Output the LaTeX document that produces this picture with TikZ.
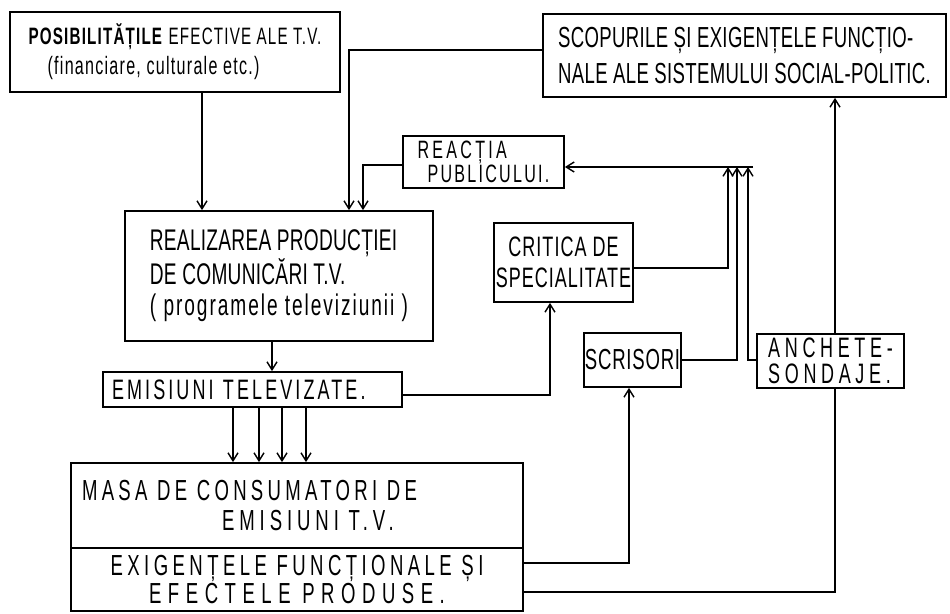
\documentclass[tikz,border=0pt]{standalone}
\usepackage{fontspec}
\newfontfamily\handfont[FakeStretch=0.64]{Liberation Sans}
\usetikzlibrary{arrows.meta}
\newcommand\lettering[3]{\fontsize{#1}{#2}\handfont\addfontfeature{LetterSpace=#3}}

\begin{document}
\begin{tikzpicture}[
    x=0.02cm, y=-0.02cm,
    box/.style={draw,line width=1pt,inner sep=0pt,align=left},
    link/.style={line width=0.8pt},
    arr/.style={link,-{Straight Barb[length=1.6mm,width=2mm]}}
  ]
  \useasboundingbox (0,0) rectangle (950,614);

  % boxes
  \node[box,font=\lettering{13.5pt}{17pt}{5},minimum width=6.6cm,minimum height=1.6cm] (posib) at (175,52)
    {\textbf{POSIBILITĂȚILE} EFECTIVE ALE T.V.\\\hspace*{0.38cm}{\fontsize{14.3pt}{17pt}\selectfont(financiare, culturale etc.)}};
  \node[box,font=\lettering{16.5pt}{20pt}{1.2},minimum width=8.06cm,minimum height=1.66cm] (scop) at (744.5,55.5)
    {SCOPURILE ȘI EXIGENȚELE FUNCȚIO-\\NALE ALE SISTEMULUI SOCIAL-POLITIC.};
  \node[box,font=\lettering{14.3pt}{14pt}{13},minimum width=3.22cm,minimum height=1.04cm] (react) at (483.5,162)
    {REACȚIA\\\hspace*{0.2cm}{\addfontfeature{LetterSpace=9}PUBLICULUI.}};
  \node[box,font=\lettering{17pt}{17.5pt}{0.9},minimum width=6.16cm,minimum height=2.6cm] (realiz) at (279,276)
    {REALIZAREA PRODUCȚIEI\\DE COMUNICĂRI T.V.\\{\addfontfeature{LetterSpace=6.5}( programele televiziunii )}};
  \node[box,font=\lettering{16pt}{16pt}{11},inner xsep=0.18cm,text width=5.62cm,minimum height=0.7cm] (emis) at (252.5,389.5)
    {EMISIUNI TELEVIZATE.};
  \node[box,font=\lettering{16pt}{18pt}{3.6},align=center,minimum width=2.78cm,minimum height=1.58cm] (crit) at (563.5,262.5)
    {CRITICA DE\\SPECIALITATE};
  \node[box,font=\lettering{16.5pt}{16pt}{2.7},align=center,minimum width=1.94cm,minimum height=1.08cm] (scris) at (632.5,360)
    {SCRISORI};
  \node[box,font=\lettering{16pt}{14.5pt}{16.6},minimum width=2.94cm,minimum height=1.08cm] (anch) at (830.5,361)
    {ANCHETE-\\SONDAJE.};
  \node[box,font=\lettering{16.5pt}{17pt}{14.8},inner xsep=0.22cm,text width=8.6cm,minimum height=1.7cm] (masa) at (297,505.5)
    {MASA DE CONSUMATORI DE\\\hspace*{2.8cm}{\addfontfeature{LetterSpace=17}EMISIUNI T.V.}};
  \node[box,font=\lettering{16.5pt}{15.4pt}{15.3},align=center,minimum width=9.04cm,minimum height=1.26cm] (exig) at (297,579.5)
    {EXIGENȚELE FUNCȚIONALE ȘI\\{\addfontfeature{LetterSpace=22.5}EFECTELE PRODUSE.}};

  % production chain
  \draw[arr] (posib.south -| 202,0) -- (realiz.north -| 202,0);
  \draw[arr] (scop.west |- 0,50) -| (realiz.north -| 349,0);
  \draw[arr] (react.west |- 0,165) -| (realiz.north -| 363,0);
  \draw[arr] (realiz.south -| 272,0) -- (emis.north -| 272,0);
  \foreach \px in {233,259,282,306}
    \draw[arr] (emis.south -| \px,0) -- (masa.north -| \px,0);

  % feedback
  \draw[arr] (emis.east |- 0,395) -| (crit.south -| 550,0);
  \draw[arr] (exig.east |- 0,563) -| (scris.south -| 629,0);
  \draw[link] (exig.east |- 0,592) -| (anch.south -| 835,0);
  \draw[arr] (anch.north -| 835,0) -- (scop.south -| 835,0);

  \coordinate (fb) at (753,167);
  \draw[arr] (fb) -- (react.east |- fb);
  \draw[arr] (crit.east |- 0,268) -| (fb -| 728,0);
  \draw[arr] (scris.east |- 0,360) -| (fb -| 737,0);
  \draw[arr] (anch.west |- 0,360) -| (fb -| 748,0);

\end{tikzpicture}
\end{document}
